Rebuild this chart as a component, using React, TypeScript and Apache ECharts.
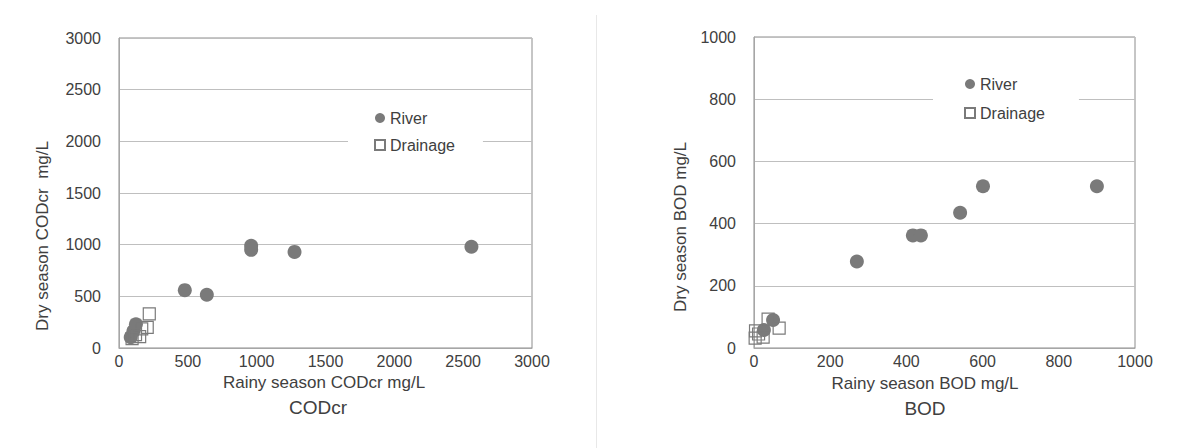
import React, { useEffect, useRef } from "react";
import * as echarts from "echarts";

// CODcr: [rainy season, dry season] in mg/L
const codRiver: [number, number][] = [
  [85, 105], [105, 165], [123, 230], [478, 560], [638, 515],
  [960, 990], [960, 950], [1275, 930], [2560, 980],
];
const codDrainage: [number, number][] = [
  [220, 330], [205, 200], [165, 185], [150, 110], [95, 90], [120, 130],
];

// BOD: [rainy season, dry season] in mg/L
const bodRiver: [number, number][] = [
  [26, 58], [50, 90], [270, 278], [417, 362], [438, 362],
  [541, 435], [601, 520], [900, 520],
];
const bodDrainage: [number, number][] = [
  [37, 93], [66, 64], [4, 55], [3, 32], [24, 35], [12, 45],
];

const seriesNames = ["River", "Drainage"];
const codRange = { min: 0, max: 3000, interval: 500 };
const bodRange = { min: 0, max: 1000, interval: 200 };

const FONT = "'Liberation Sans', Arial, sans-serif";
const TEXT = "#404040";
const MARK = "#7a7a7a";

export default function App() {
  const ref = useRef<HTMLDivElement>(null);

  useEffect(() => {
    if (!ref.current) return;
    const chart = echarts.init(ref.current, undefined, { renderer: "svg" });

    const plain = (v: number) => String(v);

    const axisCommon = {
      type: "value" as const,
      axisLine: { show: true, onZero: false, lineStyle: { color: "#a6a6a6", width: 1 } },
      axisTick: { show: false },
      splitLine: { show: false },
      axisLabel: { color: TEXT, fontSize: 16, fontFamily: FONT, formatter: plain },
    };

    const yCommon = {
      ...axisCommon,
      splitLine: { show: true, lineStyle: { color: "#bfbfbf", width: 1 } },
      axisLabel: { ...axisCommon.axisLabel, margin: 18 },
    };

    const riverStyle = { color: MARK, opacity: 1 };
    const drainStyle = {
      color: "rgba(255,255,255,0)",
      borderColor: MARK,
      borderWidth: 1.2,
      opacity: 1,
    };

    const legendCommon = {
      orient: "vertical" as const,
      data: seriesNames,
      backgroundColor: "#ffffff",
      itemWidth: 10,
      itemHeight: 10,
      itemGap: 11,
      selectedMode: false,
      textStyle: { color: TEXT, fontSize: 16, fontFamily: FONT },
    };

    const nameText = (x: number, y: number, text: string, size: number, rotate = 0) => ({
      type: "text",
      x,
      y,
      rotation: rotate,
      style: {
        text,
        fill: TEXT,
        fontSize: size,
        fontFamily: FONT,
        align: "center",
        verticalAlign: "middle",
      },
    });

    chart.setOption({
      animation: false,
      backgroundColor: "#ffffff",
      grid: [
        { left: 119, top: 38, width: 413, height: 310, show: true, borderColor: "#8c8c8c", borderWidth: 1 },
        { left: 754, top: 37, width: 381, height: 311, show: true, borderColor: "#8c8c8c", borderWidth: 1 },
      ],
      xAxis: [
        { ...axisCommon, gridIndex: 0, ...codRange, axisLabel: { ...axisCommon.axisLabel, margin: 5 } },
        { ...axisCommon, gridIndex: 1, ...bodRange, axisLabel: { ...axisCommon.axisLabel, margin: 5 } },
      ],
      yAxis: [
        { ...yCommon, gridIndex: 0, ...codRange },
        { ...yCommon, gridIndex: 1, ...bodRange },
      ],
      legend: [
        { ...legendCommon, left: 348, top: 100, padding: [10, 28, 10, 26] },
        { ...legendCommon, left: 933, top: 66, itemGap: 13, padding: [10, 34, 10, 31] },
      ],
      series: [
        {
          name: seriesNames[0], type: "scatter", xAxisIndex: 0, yAxisIndex: 0,
          symbol: "circle", symbolSize: 14, itemStyle: riverStyle, data: codRiver,
        },
        {
          name: seriesNames[1], type: "scatter", xAxisIndex: 0, yAxisIndex: 0,
          symbol: "rect", symbolSize: 12, itemStyle: drainStyle, data: codDrainage,
        },
        {
          name: seriesNames[0], type: "scatter", xAxisIndex: 1, yAxisIndex: 1,
          symbol: "circle", symbolSize: 14, itemStyle: riverStyle, data: bodRiver,
        },
        {
          name: seriesNames[1], type: "scatter", xAxisIndex: 1, yAxisIndex: 1,
          symbol: "rect", symbolSize: 12, itemStyle: drainStyle, data: bodDrainage,
        },
      ],
      graphic: [
        {
          type: "line",
          shape: { x1: 596.5, y1: 15, x2: 596.5, y2: 448 },
          style: { stroke: "#e8e8e8", lineWidth: 1 },
        },
        nameText(42, 236, "Dry season CODcr  mg/L", 17, Math.PI / 2),
        nameText(680, 227, "Dry season BOD mg/L", 17, Math.PI / 2),
        nameText(324, 382, "Rainy season CODcr mg/L", 17),
        nameText(925, 383, "Rainy season BOD mg/L", 17),
        nameText(318, 407, "CODcr", 19),
        nameText(925, 408, "BOD", 19),
      ],
    });

    return () => chart.dispose();
  }, []);

  return (
    <div
      ref={ref}
      style={{ position: "fixed", left: 0, top: 0, width: 1199, height: 448, background: "#fff" }}
    />
  );
}
